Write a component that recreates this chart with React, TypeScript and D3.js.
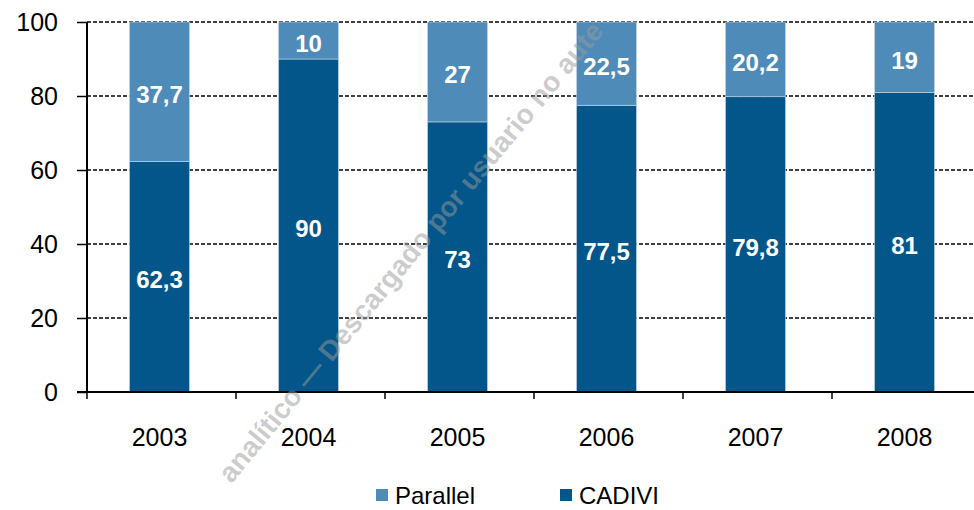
import React, { useEffect, useRef } from "react";
import * as d3 from "d3";

const width = 974;
const height = 510;
const marginTop = 22;
const marginLeft = 87;
const plotRight = 981;
const zeroY = 392;

const years = ["2003", "2004", "2005", "2006", "2007", "2008"];
const cadivi = [62.3, 90, 73, 77.5, 79.8, 81];
const parallel = [37.7, 10, 27, 22.5, 20.2, 19];
const yTicks = [0, 20, 40, 60, 80, 100];

const darkBlue = "#02568a";
const lightBlue = "#4f8bb8";
const font = "Arial, 'Liberation Sans', sans-serif";

const fmt = (v: number) => String(Math.round(v * 10) / 10).replace(".", ",");

export default function App() {
  const ref = useRef<SVGSVGElement>(null);

  useEffect(() => {
    const svg = d3.select(ref.current);
    svg.selectAll("*").remove();

    const x = d3.scaleBand().domain(years).range([marginLeft, plotRight]).paddingInner(0).paddingOuter(0);
    const y = d3.scaleLinear().domain([0, 100]).range([zeroY, marginTop]);
    const barW = 60;

    // gridlines
    svg
      .append("g")
      .selectAll("line")
      .data(yTicks.filter(d => d > 0))
      .join("line")
      .attr("x1", marginLeft)
      .attr("x2", width)
      .attr("y1", d => y(d))
      .attr("y2", d => y(d))
      .attr("stroke", "#000")
      .attr("stroke-width", 1.3)
      .attr("stroke-dasharray", "4,2");

    // stacked bars
    const rows = years.map((yr, i) => ({ yr, cadivi: cadivi[i], parallel: parallel[i] }));
    const keys = ["cadivi", "parallel"];
    const stack = d3.stack<any>().keys(keys)(rows);
    const colors: Record<string, string> = { cadivi: darkBlue, parallel: lightBlue };

    stack.forEach(layer => {
      const g = svg.append("g");
      g.selectAll("rect")
        .data(layer)
        .join("rect")
        .attr("x", d => x(d.data.yr)! + x.bandwidth() / 2 - barW / 2 - 2)
        .attr("width", barW)
        .attr("y", d => y(d[1]))
        .attr("height", d => y(d[0]) - y(d[1]))
        .attr("fill", colors[layer.key])
        .attr("stroke", "#c9d9e8")
        .attr("stroke-width", 0.6);

      g.selectAll("text")
        .data(layer)
        .join("text")
        .attr("x", d => x(d.data.yr)! + x.bandwidth() / 2 - 2)
        .attr("y", d => y((d[0] + d[1]) / 2) + 3)
        .attr("dy", "0.35em")
        .attr("text-anchor", "middle")
        .attr("fill", "#fff")
        .attr("font-family", font)
        .attr("font-weight", "bold")
        .attr("font-size", 24)
        .text(d => fmt(d.data[layer.key]));
    });

    // y axis
    svg
      .append("g")
      .attr("transform", `translate(${marginLeft},0)`)
      .call(d3.axisLeft(y).tickValues(yTicks).tickSize(10).tickPadding(19).tickFormat(d => String(d)))
      .call(g => g.select(".domain").attr("stroke-width", 2).attr("d", `M0,${marginTop}V${zeroY}`))
      .call(g => g.selectAll(".tick line").attr("stroke-width", 1.5))
      .call(g =>
        g
          .selectAll(".tick text")
          .attr("font-family", font)
          .attr("font-size", 25)
          .attr("fill", "#000")
      );

    // x axis
    const xa = svg.append("g");
    xa.append("line")
      .attr("x1", marginLeft - 10)
      .attr("x2", width)
      .attr("y1", zeroY)
      .attr("y2", zeroY)
      .attr("stroke", "#000")
      .attr("stroke-width", 2);
    xa.selectAll("line.tk")
      .data(years)
      .join("line")
      .attr("class", "tk")
      .attr("x1", d => x(d)!)
      .attr("x2", d => x(d)!)
      .attr("y1", zeroY)
      .attr("y2", zeroY + 7)
      .attr("stroke", "#000")
      .attr("stroke-width", 1.5);
    xa.selectAll("text")
      .data(years)
      .join("text")
      .attr("x", d => x(d)! + x.bandwidth() / 2 - 2)
      .attr("y", 446)
      .attr("text-anchor", "middle")
      .attr("font-family", font)
      .attr("font-size", 25)
      .text(d => d);

    // legend
    const legend = [
      { name: "Parallel", color: lightBlue, x: 376 },
      { name: "CADIVI", color: darkBlue, x: 560 },
    ];
    const lg = svg.append("g").selectAll("g").data(legend).join("g");
    lg.append("rect")
      .attr("x", d => d.x)
      .attr("y", 489)
      .attr("width", 12)
      .attr("height", 12)
      .attr("fill", d => d.color);
    lg.append("text")
      .attr("x", d => d.x + 19)
      .attr("y", 504)
      .attr("font-family", font)
      .attr("font-size", 24)
      .text(d => d.name);

    // watermark
    svg
      .append("text")
      .attr("transform", "translate(418,258) rotate(-50.5)")
      .attr("text-anchor", "middle")
      .attr("font-family", font)
      .attr("font-weight", "bold")
      .attr("font-size", 28)
      .attr("fill", "#9a9a9a")
      .attr("fill-opacity", 0.5)
      .text("analítico — Descargado por usuario no aute");
  }, []);

  return (
    <svg
      ref={ref}
      width={width}
      height={height}
      viewBox={`0 0 ${width} ${height}`}
      style={{ position: "absolute", left: 0, top: 0 }}
    ></svg>
  );
}
